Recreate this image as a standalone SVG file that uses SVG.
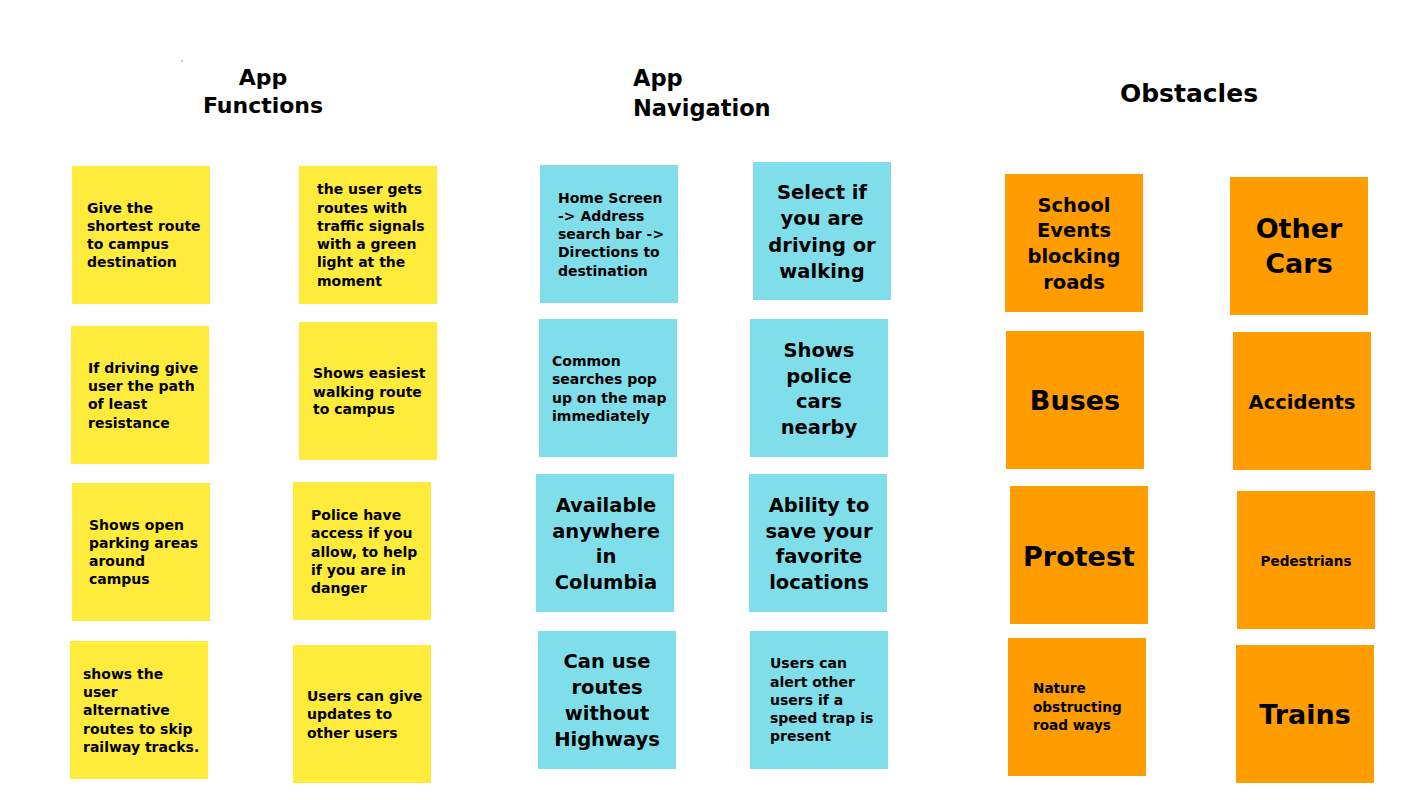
<svg xmlns="http://www.w3.org/2000/svg" width="1422" height="800" viewBox="0 0 1422 800">
  <style>
    text { font-family: "DejaVu Sans", "Liberation Sans", sans-serif; font-weight: bold; fill: #000; }
    .yellow { fill: #FFEB3B; }
    .cyan { fill: #80DEEA; }
    .orange { fill: #FF9D00; }
    .title { font-size: 22px; }
    .sm { font-size: 14px; }
    .md { font-size: 19.5px; text-anchor: middle; }
    .lg { font-size: 27px; text-anchor: middle; }
    .mid { text-anchor: middle; }
  </style>

  <rect width="1422" height="800" fill="#FFFFFF"/>
  <circle cx="182" cy="61" r="1" fill="#B0B0B0"/>

  <!-- Column headings -->
  <g id="heading-functions">
    <text class="title mid" x="263" y="85">App</text>
    <text class="title mid" x="263" y="113">Functions</text>
  </g>
  <g id="heading-navigation">
    <text class="title" x="633" y="86" style="font-size:22.5px">App</text>
    <text class="title" x="633" y="116" style="font-size:22.5px">Navigation</text>
  </g>
  <g id="heading-obstacles">
    <text class="title mid" x="1189" y="102" style="font-size:25px">Obstacles</text>
  </g>

  <!-- App Functions (yellow notes); tspans are kept adjacent so no stray spaces enter the lines -->
  <g id="f-shortest-route">
    <rect class="yellow" x="72" y="166" width="138" height="138"/>
    <text class="sm"><tspan x="87" y="213">Give the</tspan><tspan x="87" y="231">shortest route</tspan><tspan x="87" y="249">to campus</tspan><tspan x="87" y="267">destination</tspan></text>
  </g>
  <g id="f-green-lights">
    <rect class="yellow" x="299" y="166" width="138" height="138"/>
    <text class="sm"><tspan x="317" y="194">the user gets</tspan><tspan x="317" y="213">routes with</tspan><tspan x="317" y="231">traffic signals</tspan><tspan x="317" y="249">with a green</tspan><tspan x="317" y="267">light at the</tspan><tspan x="317" y="286">moment</tspan></text>
  </g>
  <g id="f-least-resistance">
    <rect class="yellow" x="71" y="326" width="138" height="138"/>
    <text class="sm"><tspan x="88" y="373">If driving give</tspan><tspan x="88" y="391">user the path</tspan><tspan x="88" y="409">of least</tspan><tspan x="88" y="428">resistance</tspan></text>
  </g>
  <g id="f-walking-route">
    <rect class="yellow" x="299" y="322" width="138" height="138"/>
    <text class="sm"><tspan x="313" y="378">Shows easiest</tspan><tspan x="313" y="397">walking route</tspan><tspan x="313" y="414">to campus</tspan></text>
  </g>
  <g id="f-parking">
    <rect class="yellow" x="72" y="483" width="138" height="138"/>
    <text class="sm"><tspan x="89" y="530">Shows open</tspan><tspan x="89" y="548">parking areas</tspan><tspan x="89" y="566">around</tspan><tspan x="89" y="584">campus</tspan></text>
  </g>
  <g id="f-police-access">
    <rect class="yellow" x="293" y="482" width="138" height="138"/>
    <text class="sm"><tspan x="311" y="520">Police have</tspan><tspan x="311" y="538">access if you</tspan><tspan x="311" y="557">allow, to help</tspan><tspan x="311" y="575">if you are in</tspan><tspan x="311" y="593">danger</tspan></text>
  </g>
  <g id="f-railway">
    <rect class="yellow" x="70" y="641" width="138" height="138"/>
    <text class="sm"><tspan x="83" y="679">shows the</tspan><tspan x="83" y="697">user</tspan><tspan x="83" y="715">alternative</tspan><tspan x="83" y="734">routes to skip</tspan><tspan x="83" y="752">railway tracks.</tspan></text>
  </g>
  <g id="f-user-updates">
    <rect class="yellow" x="293" y="645" width="138" height="138"/>
    <text class="sm"><tspan x="307" y="701">Users can give</tspan><tspan x="307" y="719">updates to</tspan><tspan x="307" y="738">other users</tspan></text>
  </g>

  <!-- App Navigation (cyan notes) -->
  <g id="n-home-flow">
    <rect class="cyan" x="540" y="165" width="138" height="138"/>
    <text class="sm"><tspan x="558" y="203">Home Screen</tspan><tspan x="558" y="221">-&gt; Address</tspan><tspan x="558" y="239">search bar -&gt;</tspan><tspan x="558" y="257">Directions to</tspan><tspan x="558" y="276">destination</tspan></text>
  </g>
  <g id="n-drive-walk">
    <rect class="cyan" x="753" y="162" width="138" height="138"/>
    <text class="md"><tspan x="822" y="199">Select if</tspan><tspan x="822" y="225">you are</tspan><tspan x="822" y="252">driving or</tspan><tspan x="822" y="278">walking</tspan></text>
  </g>
  <g id="n-common-searches">
    <rect class="cyan" x="539" y="319" width="138" height="138"/>
    <text class="sm"><tspan x="552" y="366">Common</tspan><tspan x="552" y="384">searches pop</tspan><tspan x="552" y="403">up on the map</tspan><tspan x="552" y="421">immediately</tspan></text>
  </g>
  <g id="n-police-cars">
    <rect class="cyan" x="750" y="319" width="138" height="138"/>
    <text class="md"><tspan x="819" y="357">Shows</tspan><tspan x="819" y="383">police</tspan><tspan x="819" y="408">cars</tspan><tspan x="819" y="434">nearby</tspan></text>
  </g>
  <g id="n-columbia">
    <rect class="cyan" x="536" y="474" width="138" height="138"/>
    <text class="md"><tspan x="606" y="512">Available</tspan><tspan x="606" y="538">anywhere</tspan><tspan x="606" y="563">in</tspan><tspan x="606" y="589">Columbia</tspan></text>
  </g>
  <g id="n-favorites">
    <rect class="cyan" x="749" y="474" width="138" height="138"/>
    <text class="md"><tspan x="819" y="512">Ability to</tspan><tspan x="819" y="538">save your</tspan><tspan x="819" y="563">favorite</tspan><tspan x="819" y="589">locations</tspan></text>
  </g>
  <g id="n-no-highways">
    <rect class="cyan" x="538" y="631" width="138" height="138"/>
    <text class="md"><tspan x="607" y="668">Can use</tspan><tspan x="607" y="694">routes</tspan><tspan x="607" y="720">without</tspan><tspan x="607" y="746">Highways</tspan></text>
  </g>
  <g id="n-speed-trap">
    <rect class="cyan" x="750" y="631" width="138" height="138"/>
    <text class="sm"><tspan x="770" y="668">Users can</tspan><tspan x="770" y="687">alert other</tspan><tspan x="770" y="705">users if a</tspan><tspan x="770" y="723">speed trap is</tspan><tspan x="770" y="741">present</tspan></text>
  </g>

  <!-- Obstacles (orange notes) -->
  <g id="o-school-events">
    <rect class="orange" x="1005" y="174" width="138" height="138"/>
    <text class="md"><tspan x="1074" y="212">School</tspan><tspan x="1074" y="237">Events</tspan><tspan x="1074" y="263">blocking</tspan><tspan x="1074" y="289">roads</tspan></text>
  </g>
  <g id="o-other-cars">
    <rect class="orange" x="1230" y="177" width="138" height="138"/>
    <text class="lg"><tspan x="1299" y="238">Other</tspan><tspan x="1299" y="273">Cars</tspan></text>
  </g>
  <g id="o-buses">
    <rect class="orange" x="1006" y="331" width="138" height="138"/>
    <text class="lg" x="1075" y="410">Buses</text>
  </g>
  <g id="o-accidents">
    <rect class="orange" x="1233" y="332" width="138" height="138"/>
    <text class="md" x="1302" y="409">Accidents</text>
  </g>
  <g id="o-protest">
    <rect class="orange" x="1010" y="486" width="138" height="138"/>
    <text class="lg" x="1079" y="566">Protest</text>
  </g>
  <g id="o-pedestrians">
    <rect class="orange" x="1237" y="491" width="138" height="138"/>
    <text class="sm mid" x="1306" y="566" style="font-size:13.6px">Pedestrians</text>
  </g>
  <g id="o-nature">
    <rect class="orange" x="1008" y="638" width="138" height="138"/>
    <text class="sm" style="font-size:13.6px"><tspan x="1033" y="693">Nature</tspan><tspan x="1033" y="712">obstructing</tspan><tspan x="1033" y="730">road ways</tspan></text>
  </g>
  <g id="o-trains">
    <rect class="orange" x="1236" y="645" width="138" height="138"/>
    <text class="lg" x="1305" y="724">Trains</text>
  </g>
</svg>
